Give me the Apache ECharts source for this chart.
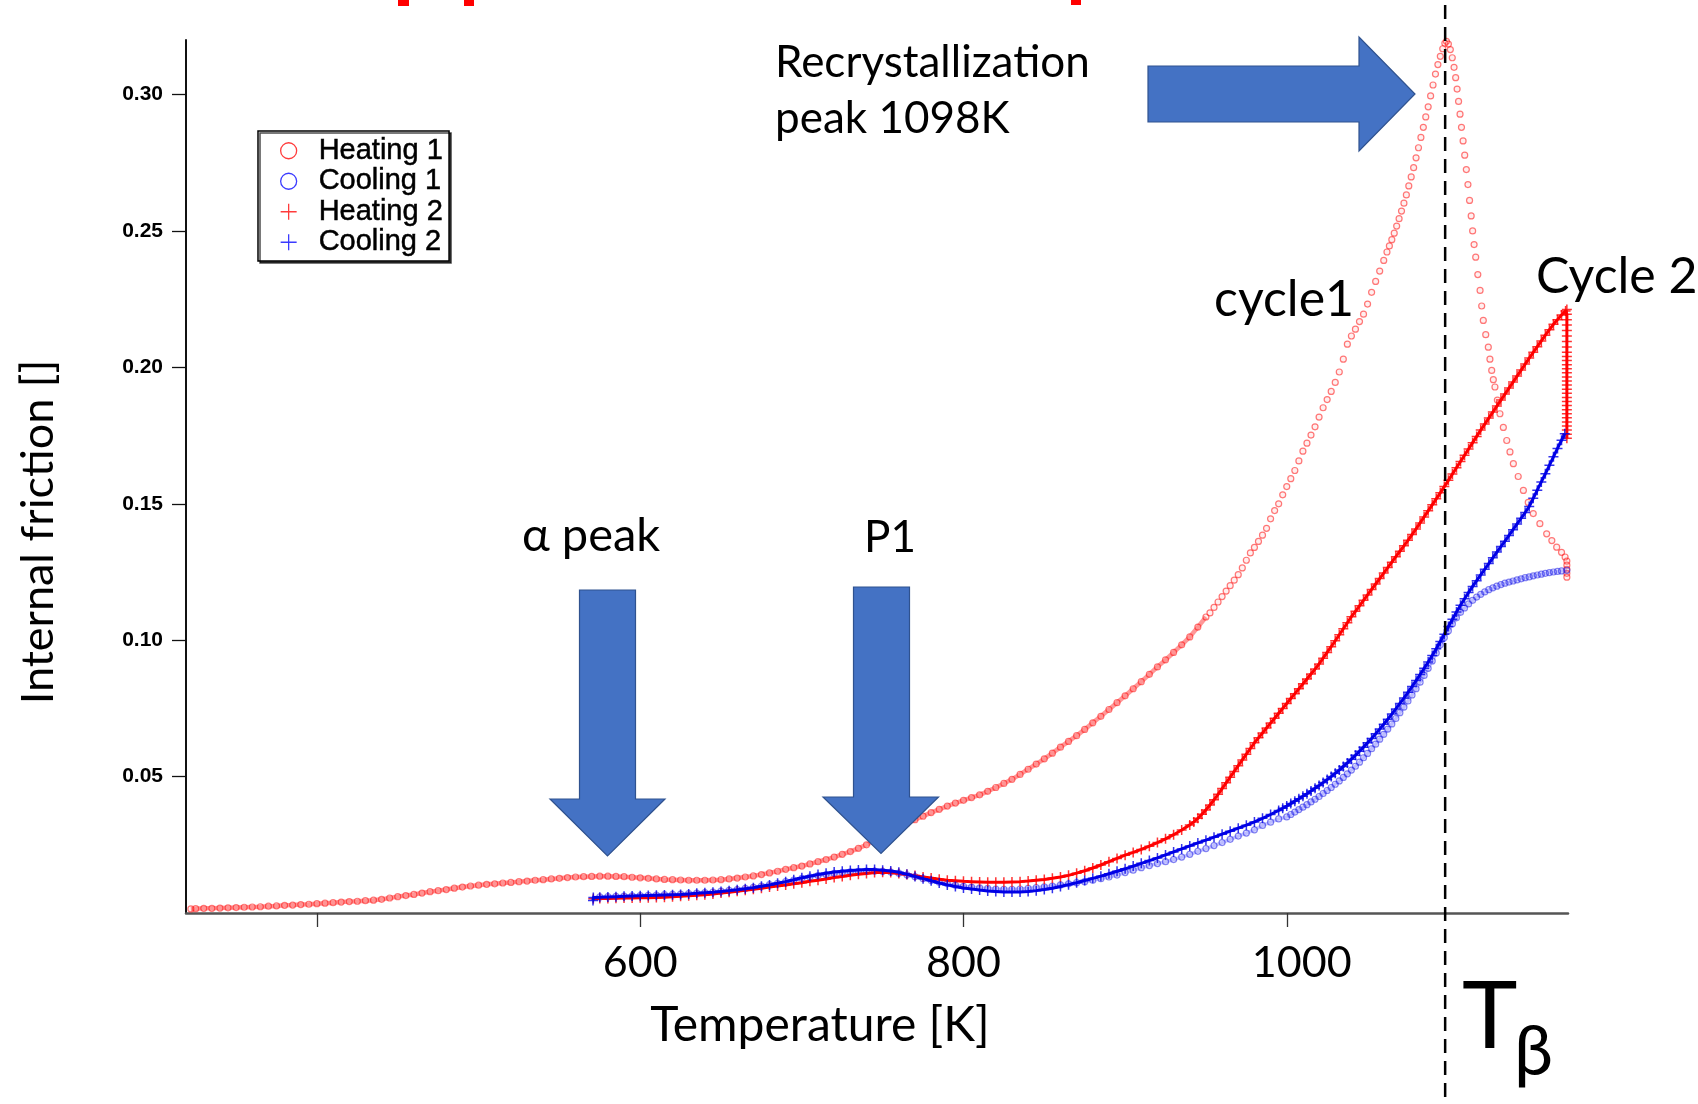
<!DOCTYPE html>
<html>
<head>
<meta charset="utf-8">
<script src="https://cdn.jsdelivr.net/npm/echarts@6/dist/echarts.min.js"></script>
<style>
  html, body { margin: 0; padding: 0; background: #fff; }
  #chart { width: 1698px; height: 1104px; }
</style>
</head>
<body>
<div id="chart"></div>
<script>
// Internal friction vs. temperature, two heating/cooling cycles.
// Each run is a list of [temperature K, internal friction].

const heating1 = [
  [322,0.0015],[325,0.0016],[330,0.0017],[335,0.0017],[340,0.0018],[345,0.0019],[350,0.0020],[355,0.0021],
  [360,0.0022],[365,0.0023],[370,0.0025],[375,0.0026],[380,0.0028],[385,0.0029],[390,0.0031],[395,0.0032],
  [400,0.0034],[405,0.0036],[410,0.0038],[415,0.0040],[420,0.0042],[425,0.0043],[430,0.0045],[435,0.0047],
  [440,0.0050],[445,0.0055],[450,0.0060],[455,0.0064],[460,0.0068],[465,0.0073],[470,0.0078],[475,0.0082],
  [480,0.0086],[485,0.0091],[490,0.0095],[495,0.0099],[500,0.0102],[505,0.0105],[510,0.0107],[515,0.0110],
  [520,0.0112],[525,0.0115],[530,0.0117],[535,0.0120],[540,0.0122],[545,0.0125],[550,0.0127],[555,0.0130],
  [560,0.0132],[565,0.0133],[570,0.0134],[575,0.0135],[580,0.0135],[585,0.0134],[590,0.0133],[595,0.0131],
  [600,0.0129],[605,0.0127],[610,0.0125],[615,0.0123],[620,0.0122],[625,0.0121],[630,0.0120],[635,0.0120],
  [640,0.0120],[645,0.0121],[650,0.0122],[655,0.0125],[660,0.0128],[665,0.0132],[670,0.0136],[675,0.0141],
  [680,0.0147],[685,0.0153],[690,0.0160],[695,0.0166],[700,0.0172],[705,0.0180],[710,0.0188],[715,0.0196],
  [720,0.0205],[725,0.0215],[730,0.0225],[735,0.0237],[740,0.0250],[745,0.0265],[750,0.0280],[755,0.0297],
  [760,0.0313],[765,0.0328],[770,0.0342],[775,0.0355],[780,0.0368],[785,0.0380],[790,0.0392],[795,0.0403],
  [800,0.0413],[805,0.0423],[810,0.0433],[815,0.0446],[820,0.0460],[825,0.0475],[830,0.0490],[835,0.0508],
  [840,0.0527],[845,0.0546],[850,0.0565],[855,0.0586],[860,0.0608],[865,0.0629],[870,0.0650],[875,0.0673],
  [880,0.0697],[885,0.0721],[890,0.0746],[895,0.0771],[900,0.0796],[905,0.0822],[910,0.0848],[915,0.0875],
  [920,0.0902],[925,0.0928],[930,0.0955],[935,0.0983],[940,0.1012],[945,0.1048],[950,0.1085],
  [952.5,0.1100],[955,0.1120],[957.5,0.1140],[960,0.1160],[962.5,0.1180],[965,0.1200],[967.5,0.1220],
  [970,0.1240],[972.5,0.1265],[975,0.1293],[977.5,0.1320],[980,0.1340],[982.5,0.1362],[985,0.1385],
  [987.5,0.1410],[990,0.1445],[992.5,0.1475],[995,0.1500],[997.5,0.1533],[1000,0.1563],[1002.5,0.1592],
  [1005,0.1622],[1007.5,0.1657],[1010,0.1693],[1012.5,0.1722],[1015,0.1752],[1017.5,0.1782],[1020,0.1818],
  [1022.5,0.1852],[1025,0.1882],[1027.5,0.1912],[1030,0.1945],[1032.5,0.1983],[1035,0.2030],[1037.5,0.2085],
  [1040,0.2115],[1042.5,0.2140],[1045,0.2168],[1047.5,0.2195],[1050,0.2232],[1052.5,0.2275],[1055,0.2315],
  [1057.5,0.2353],[1060,0.2392],[1062,0.2423],[1063.5,0.2445],[1065,0.2468],[1066.5,0.2492],[1068,0.2518],
  [1069.5,0.2545],[1071,0.2573],[1072.5,0.2602],[1074,0.2632],[1075.5,0.2665],[1077,0.2698],[1078.5,0.2732],
  [1080,0.2768],[1081.5,0.2805],[1083,0.2843],[1084.5,0.2880],[1086,0.2918],[1087.5,0.2955],[1089,0.2995],
  [1090.5,0.3035],[1092,0.3075],[1093.5,0.3110],[1095,0.3140],[1096.5,0.3168],[1097.8,0.3188],[1098.8,0.3195],
  [1100,0.3185],[1101.2,0.3165],[1102.4,0.3135],[1103.5,0.3100],[1104.5,0.3062],[1105.4,0.3020],[1106.3,0.2975],
  [1107.2,0.2928],[1108.1,0.2880],[1109.1,0.2830],[1110.1,0.2778],[1111.1,0.2725],[1112.1,0.2670],[1113.1,0.2612],
  [1114.1,0.2555],[1115.0,0.2500],[1115.9,0.2450],[1116.9,0.2404],[1118.2,0.2340],[1119.6,0.2282],[1120.6,0.2225],
  [1121.6,0.2172],[1123.1,0.2120],[1124.7,0.2074],[1125.7,0.2030],[1126.8,0.1989],[1127.8,0.1955],[1128.8,0.1928],
  [1130.3,0.1880],[1131.9,0.1830],[1134.0,0.1780],[1136.1,0.1732],[1138.1,0.1690],[1140.2,0.1647],[1143.2,0.1600],
  [1146.4,0.1549],[1149.4,0.1505],[1152.5,0.1464],[1156.6,0.1427],[1160.8,0.1390],[1164.0,0.1365],[1167.0,0.1341],
  [1170.0,0.1322],[1172.2,0.1305],[1173.3,0.1290],[1173.3,0.1275],[1173.3,0.1260],[1173.3,0.1245],[1173.3,0.1231]
];

const cooling1 = [
  [575,0.0059],[580,0.0060],[585,0.0061],[590,0.0062],[595,0.0063],[600,0.0064],[605,0.0065],[610,0.0066],
  [615,0.0067],[620,0.0068],[625,0.0069],[630,0.0071],[635,0.0073],[640,0.0075],[645,0.0077],[650,0.0080],
  [655,0.0083],[660,0.0086],[665,0.0090],[670,0.0094],[675,0.0099],[680,0.0104],[685,0.0109],[690,0.0115],
  [695,0.0121],[700,0.0127],[705,0.0132],[710,0.0137],[715,0.0141],[720,0.0145],[725,0.0148],[730,0.0151],
  [735,0.0153],[740,0.0154],[745,0.0154],[750,0.0153],[755,0.0150],[760,0.0146],[765,0.0140],[770,0.0133],
  [775,0.0126],[780,0.0119],[785,0.0113],[790,0.0107],[795,0.0102],[800,0.0098],[805,0.0095],[810,0.0092],
  [815,0.0090],[820,0.0088],[825,0.0087],[830,0.0087],[835,0.0088],[840,0.0090],[845,0.0093],[850,0.0096],
  [855,0.0099],[860,0.0103],[865,0.0107],[870,0.0111],[875,0.0115],[880,0.0120],[885,0.0126],[890,0.0132],
  [895,0.0139],[900,0.0148],[905,0.0157],[910,0.0166],[915,0.0174],[920,0.0181],[925,0.0188],[930,0.0196],
  [935,0.0205],[940,0.0215],[945,0.0226],[950,0.0236],[955,0.0247],[960,0.0258],[965,0.0270],[970,0.0282],
  [975,0.0293],[980,0.0305],[985,0.0321],[990,0.0333],[995,0.0345],
  [1000,0.0352],[1002.5,0.0361],[1005,0.0370],[1007.5,0.0379],[1010,0.0388],[1012.5,0.0397],[1015,0.0407],
  [1017.5,0.0417],[1020,0.0427],[1022.5,0.0438],[1025,0.0449],[1027.5,0.0460],[1030,0.0472],[1032.5,0.0484],
  [1035,0.0497],[1037.5,0.0510],[1040,0.0524],[1042.5,0.0538],[1045,0.0553],[1047.5,0.0569],[1050,0.0585],
  [1052.5,0.0602],[1055,0.0619],[1057.5,0.0637],[1060,0.0655],[1062.5,0.0674],[1065,0.0693],[1067.5,0.0713],
  [1070,0.0734],[1072.5,0.0755],[1075,0.0777],[1077.5,0.0799],[1080,0.0822],[1082.5,0.0846],[1085,0.0871],
  [1087.5,0.0897],[1090,0.0924],[1092.5,0.0953],[1095,0.0983],[1097.5,0.1010],[1100,0.1035],[1102.5,0.1060],
  [1105,0.1082],[1107.5,0.1102],[1110,0.1118],[1112.5,0.1133],[1115,0.1146],[1117.5,0.1158],[1120,0.1168],
  [1122.5,0.1177],[1125,0.1185],[1127.5,0.1192],[1130,0.1198],[1132.5,0.1204],[1135,0.1209],[1137.5,0.1213],
  [1140,0.1217],[1142.5,0.1221],[1145,0.1225],[1147.5,0.1229],[1150,0.1232],[1152.5,0.1236],[1155,0.1239],
  [1157.5,0.1242],[1160,0.1245],[1162.5,0.1248],[1165,0.1250],[1167.5,0.1252],[1170,0.1254],[1173.3,0.1256]
];

const heating2 = [
  [571,0.0052],[575,0.0053],[580,0.0053],[585,0.0054],[590,0.0055],[595,0.0055],[600,0.0056],[605,0.0056],
  [610,0.0057],[615,0.0058],[620,0.0060],[625,0.0061],[630,0.0063],[635,0.0065],[640,0.0067],[645,0.0070],
  [650,0.0073],[655,0.0076],[660,0.0080],[665,0.0083],[670,0.0087],[675,0.0091],[680,0.0095],[685,0.0099],
  [690,0.0103],[695,0.0107],[700,0.0111],[705,0.0116],[710,0.0120],[715,0.0125],[720,0.0130],[725,0.0134],
  [730,0.0138],[735,0.0142],[740,0.0145],[745,0.0148],[750,0.0149],[755,0.0148],[760,0.0145],[765,0.0141],
  [770,0.0137],[775,0.0132],[780,0.0128],[785,0.0124],[790,0.0120],[795,0.0118],[800,0.0116],[805,0.0115],
  [810,0.0114],[815,0.0113],[820,0.0113],[825,0.0113],[830,0.0114],[835,0.0115],[840,0.0117],[845,0.0120],
  [850,0.0123],[855,0.0127],[860,0.0132],[865,0.0138],[870,0.0146],[875,0.0155],[880,0.0165],[885,0.0176],
  [890,0.0188],[895,0.0200],[900,0.0212],[905,0.0222],[910,0.0233],[915,0.0245],[920,0.0258],[925,0.0272],
  [930,0.0287],[935,0.0304],[940,0.0323],[942.5,0.0334],[945,0.0347],[947.5,0.0362],[950,0.0378],
  [952.5,0.0396],[955,0.0415],[957.5,0.0435],[960,0.0456],[962.5,0.0477],[965,0.0498],[967.5,0.0519],
  [970,0.0540],[972.5,0.0561],[975,0.0582],[977.5,0.0603],[980,0.0624],[982.5,0.0642],[985,0.0660],
  [987.5,0.0678],[990,0.0696],[992.5,0.0714],[995,0.0732],[997.5,0.0750],[1000,0.0768],[1002.5,0.0786],
  [1005,0.0804],[1007.5,0.0822],[1010,0.0840],[1012.5,0.0858],[1015,0.0876],[1017.5,0.0894],[1020,0.0913],
  [1022.5,0.0934],[1025,0.0955],[1027.5,0.0976],[1030,0.0998],[1032.5,0.1020],[1035,0.1042],[1037.5,0.1064],
  [1040,0.1086],[1042.5,0.1106],[1045,0.1126],[1047.5,0.1146],[1050,0.1166],[1052.5,0.1186],[1055,0.1206],
  [1057.5,0.1226],[1060,0.1246],[1062.5,0.1266],[1065,0.1286],[1067.5,0.1306],[1070,0.1326],[1072.5,0.1346],
  [1075,0.1366],[1077.5,0.1387],[1080,0.1408],[1082.5,0.1430],[1085,0.1452],[1087.5,0.1474],[1090,0.1496],
  [1092.5,0.1518],[1095,0.1540],[1097.5,0.1563],[1100,0.1586],[1102.5,0.1609],[1105,0.1632],[1107.5,0.1655],
  [1110,0.1678],[1112.5,0.1701],[1115,0.1724],[1117.5,0.1747],[1120,0.1770],[1122.5,0.1792],[1125,0.1814],
  [1127.5,0.1836],[1130,0.1858],[1132.5,0.1880],[1135,0.1902],[1137.5,0.1924],[1140,0.1946],[1142.5,0.1968],
  [1145,0.1990],[1147.5,0.2012],[1150,0.2034],[1152.5,0.2055],[1155,0.2076],[1157.5,0.2097],[1160,0.2118],
  [1162.5,0.2138],[1165,0.2158],[1167.5,0.2175],[1170,0.2192],[1172.5,0.2207],[1173.3,0.2212],
  [1173.3,0.2195],[1173.3,0.2175],[1173.3,0.2155],[1173.3,0.2135],[1173.3,0.2115],[1173.3,0.2095],
  [1173.3,0.2075],[1173.3,0.2055],[1173.3,0.2040],[1173.3,0.2025],[1173.3,0.2010],[1173.3,0.1995],
  [1173.3,0.1980],[1173.3,0.1965],[1173.3,0.1950],[1173.3,0.1935],[1173.3,0.1920],[1173.3,0.1905],
  [1173.3,0.1890],[1173.3,0.1875],[1173.3,0.1860],[1173.3,0.1845],[1173.3,0.1830],[1173.3,0.1815],
  [1173.3,0.1800],[1173.3,0.1785],[1173.3,0.1770],[1173.3,0.1755],[1173.3,0.1740]
];

const cooling2 = [
  [570.8,0.0046],[571,0.0057],[575,0.0058],[580,0.0059],[585,0.0060],[590,0.0061],[595,0.0062],[600,0.0063],
  [605,0.0064],[610,0.0065],[615,0.0066],[620,0.0067],[625,0.0068],[630,0.0070],[635,0.0072],[640,0.0074],
  [645,0.0076],[650,0.0079],[655,0.0082],[660,0.0085],[665,0.0089],[670,0.0093],[675,0.0098],[680,0.0103],
  [685,0.0109],[690,0.0115],[695,0.0122],[700,0.0129],[705,0.0135],[710,0.0141],[715,0.0146],[720,0.0150],
  [725,0.0153],[730,0.0156],[735,0.0158],[740,0.0159],[745,0.0159],[750,0.0157],[755,0.0154],[760,0.0149],
  [765,0.0142],[770,0.0134],[775,0.0126],[780,0.0118],[785,0.0110],[790,0.0103],[795,0.0097],[800,0.0092],
  [805,0.0088],[810,0.0084],[815,0.0081],[820,0.0079],[825,0.0077],[830,0.0077],[835,0.0077],[840,0.0079],
  [845,0.0082],[850,0.0086],[855,0.0091],[860,0.0097],[865,0.0104],[870,0.0111],[875,0.0119],[880,0.0127],
  [885,0.0135],[890,0.0144],[895,0.0153],[900,0.0162],[905,0.0172],[910,0.0182],[915,0.0192],[920,0.0202],
  [925,0.0213],[930,0.0224],[935,0.0235],[940,0.0246],[945,0.0257],[950,0.0267],[955,0.0278],[960,0.0289],
  [965,0.0300],[970,0.0311],[975,0.0322],[980,0.0334],[985,0.0347],[990,0.0361],[995,0.0376],[997.5,0.0384],
  [1000,0.0392],[1002.5,0.0401],[1005,0.0410],[1007.5,0.0419],[1010,0.0428],[1012.5,0.0437],[1015,0.0447],
  [1017.5,0.0457],[1020,0.0467],[1022.5,0.0478],[1025,0.0489],[1027.5,0.0500],[1030,0.0512],[1032.5,0.0524],
  [1035,0.0537],[1037.5,0.0550],[1040,0.0564],[1042.5,0.0578],[1045,0.0593],[1047.5,0.0608],[1050,0.0624],
  [1052.5,0.0640],[1055,0.0657],[1057.5,0.0674],[1060,0.0692],[1062.5,0.0710],[1065,0.0729],[1067.5,0.0748],
  [1070,0.0768],[1072.5,0.0788],[1075,0.0809],[1077.5,0.0830],[1080,0.0852],[1082.5,0.0874],[1085,0.0897],
  [1087.5,0.0920],[1090,0.0944],[1092.5,0.0969],[1095,0.0995],[1097.5,0.1022],[1100,0.1050],[1102.5,0.1077],
  [1105,0.1103],[1107.5,0.1128],[1110,0.1152],[1112.5,0.1175],[1115,0.1197],[1117.5,0.1218],[1120,0.1239],
  [1122.5,0.1260],[1125,0.1281],[1127.5,0.1302],[1130,0.1323],[1132.5,0.1343],[1135,0.1363],[1137.5,0.1384],
  [1140,0.1405],[1142.5,0.1426],[1145,0.1447],[1147.5,0.1468],[1150,0.1490],[1152.5,0.1520],[1155,0.1550],
  [1157.5,0.1580],[1160,0.1610],[1162.5,0.1641],[1165,0.1672],[1167.5,0.1703],[1170,0.1733],[1172,0.1757]
];

const seriesNames = ['Heating 1', 'Cooling 1', 'Heating 2', 'Cooling 2'];
const xTickValues = [400, 600, 800, 1000];
const xLabelValues = [600, 800, 1000];
const yTickValues = [0.05, 0.10, 0.15, 0.20, 0.25, 0.30];
const betaTransus = 1098;           // K, dashed marker
const recrystPeakLabel = 'peak 1098K';

const RED = '#ff0000';
const BLUE = '#0000e6';
const PLUS = 'path://M0,5L10,5M5,0L5,10';
const CALIBRI_LIKE = 'Lato, "Open Sans", sans-serif';
const HELV = '"Liberation Sans", Arial, sans-serif';

// dense part of the first heating run gets a soft underlying trace
const heating1Dense = heating1.filter(p => p[0] <= 950);

const chart = echarts.init(document.getElementById('chart'), null, { renderer: 'canvas' });

const option = {
  animation: false,
  backgroundColor: '#ffffff',
  textStyle: { fontFamily: HELV },
  grid: { left: 186, right: 130, top: 40, bottom: 191, containLabel: false, outerBoundsMode: 'none' },
  xAxis: {
    type: 'value', min: 319, max: 1174,
    axisLine: { show: true, onZero: false, lineStyle: { color: '#555', width: 2.5 } },
    axisTick: { show: true, inside: false, length: 14, customValues: xTickValues,
                lineStyle: { color: '#333', width: 1.3 } },
    axisLabel: { show: true, customValues: xLabelValues, margin: 29, color: '#000',
                 fontFamily: CALIBRI_LIKE, fontSize: 43,
                 // the four-digit label sits a little right of its tick
                 formatter: v => (v >= 1000 ? '{wide|' + v + '}' : String(v)),
                 rich: { wide: { fontFamily: CALIBRI_LIKE, fontSize: 43, color: '#000', padding: [0, 0, 0, 30] } } },
    splitLine: { show: false }
  },
  yAxis: {
    type: 'value', min: 0, max: 0.32,
    axisLine: { show: true, onZero: false, lineStyle: { color: '#111', width: 2 } },
    axisTick: { show: true, inside: false, length: 14, customValues: yTickValues,
                lineStyle: { color: '#111', width: 1.3 } },
    axisLabel: { show: true, customValues: yTickValues, margin: 23, color: '#000',
                 fontFamily: HELV, fontWeight: 'bold', fontSize: 21,
                 formatter: v => v.toFixed(2) },
    splitLine: { show: false }
  },
  legend: {
    orient: 'vertical', left: 258, top: 131,
    padding: [5, 6, 4, 22],
    itemWidth: 16, itemHeight: 16, itemGap: 1,
    backgroundColor: '#fff', borderColor: '#000', borderWidth: 1.5, borderRadius: 0,
    shadowColor: 'rgba(0,0,0,0.7)', shadowOffsetX: 2, shadowOffsetY: 2, shadowBlur: 0,
    selectedMode: false,
    textStyle: { fontFamily: HELV, fontSize: 29, lineHeight: 28, color: '#000',
                 textBorderColor: '#000', textBorderWidth: 0.5, padding: [0, 0, 0, 17] },
    data: [
      { name: seriesNames[0], icon: 'circle', itemStyle: { color: 'rgba(255,255,255,0)', borderColor: '#ff3b3b', borderWidth: 1.3 } },
      { name: seriesNames[1], icon: 'circle', itemStyle: { color: 'rgba(255,255,255,0)', borderColor: '#3b3bff', borderWidth: 1.3 } },
      { name: seriesNames[2], icon: PLUS, itemStyle: { color: 'rgba(255,255,255,0)', borderColor: '#ff3b3b', borderWidth: 1.3 } },
      { name: seriesNames[3], icon: PLUS, itemStyle: { color: 'rgba(255,255,255,0)', borderColor: '#3b3bff', borderWidth: 1.3 } }
    ]
  },
  series: [
    { name: seriesNames[0], type: 'line', data: heating1Dense, showSymbol: false, silent: true,
      lineStyle: { color: 'rgba(255,50,50,0.5)', width: 4.5 }, z: 1 },
    { name: seriesNames[0], type: 'scatter', data: heating1, symbol: 'circle', symbolSize: 6, silent: true,
      itemStyle: { color: 'rgba(255,120,120,0.15)', borderColor: 'rgba(255,0,0,0.65)', borderWidth: 1.2 }, z: 2 },
    { name: seriesNames[1], type: 'line', data: cooling1, showSymbol: false, silent: true,
      lineStyle: { color: 'rgba(60,60,255,0.3)', width: 3.5 }, z: 3 },
    { name: seriesNames[1], type: 'scatter', data: cooling1, symbol: 'circle', symbolSize: 6, silent: true,
      itemStyle: { color: 'rgba(120,120,255,0.12)', borderColor: 'rgba(20,20,230,0.65)', borderWidth: 1.2 }, z: 4 },
    { name: seriesNames[2], type: 'line', data: heating2, showSymbol: false, silent: true,
      lineStyle: { color: RED, width: 3 }, z: 5 },
    { name: seriesNames[2], type: 'scatter', data: heating2, symbol: PLUS, symbolSize: 10, silent: true,
      itemStyle: { color: 'rgba(0,0,0,0)', borderColor: RED, borderWidth: 1.5 }, z: 6 },
    { name: seriesNames[3], type: 'line', data: cooling2, showSymbol: false, silent: true,
      lineStyle: { color: BLUE, width: 3 }, z: 7 },
    { name: seriesNames[3], type: 'scatter', data: cooling2, symbol: PLUS, symbolSize: 10, silent: true,
      itemStyle: { color: 'rgba(0,0,0,0)', borderColor: BLUE, borderWidth: 1.5 }, z: 8 }
  ]
};

chart.setOption(option);

// Annotations: block arrows, labels and the beta-transus marker.
const ARROW_FILL = '#4472C4';
const ARROW_EDGE = '#2F528F';

function downArrow(sx1, sx2, top, headY, hx1, hx2, tipX, tipY) {
  return { type: 'polygon', z: 100,
    shape: { points: [[sx1, top], [sx2, top], [sx2, headY], [hx2, headY], [tipX, tipY], [hx1, headY], [sx1, headY]] },
    style: { fill: ARROW_FILL, stroke: ARROW_EDGE, lineWidth: 1.2 } };
}

function label(text, x, y, size, align) {
  return { type: 'text', z: 110, x: x, y: y,
    style: { text: text, fill: '#000', font: size + 'px ' + CALIBRI_LIKE,
             textAlign: align || 'left', textVerticalAlign: 'middle' } };
}

const xBeta = chart.convertToPixel({ xAxisIndex: 0 }, betaTransus);

chart.setOption({
  graphic: [
    // heading text running off the top edge
    { type: 'rect', z: 100, shape: { x: 398, y: 0, width: 11, height: 6 }, style: { fill: RED } },
    { type: 'rect', z: 100, shape: { x: 464, y: 0, width: 10, height: 6 }, style: { fill: RED } },
    { type: 'rect', z: 100, shape: { x: 1071, y: 0, width: 10, height: 5 }, style: { fill: RED } },

    { type: 'line', z: 105, shape: { x1: xBeta, y1: 5, x2: xBeta, y2: 1100 },
      style: { stroke: '#000', lineWidth: 2.5, lineDash: [14, 8] } },

    downArrow(579.5, 635.5, 590, 799, 550, 665, 607.5, 856),
    downArrow(853.5, 909.5, 587, 797, 823, 938.5, 881, 853.5),
    { type: 'polygon', z: 100,
      shape: { points: [[1148, 66], [1359, 66], [1359, 37], [1415, 94], [1359, 151], [1359, 122], [1148, 122]] },
      style: { fill: ARROW_FILL, stroke: ARROW_EDGE, lineWidth: 1.2 } },

    label('Recrystallization', 775, 63, 44),
    label(recrystPeakLabel, 775, 119, 44),
    label('cycle1', 1214, 300, 50),
    label('Cycle 2', 1536, 277, 50),
    label('\u03b1 peak', 522, 536, 47),
    label('P1', 864, 538, 44),
    label('Temperature [K]', 820, 1026, 48, 'center'),
    { type: 'text', z: 110, x: 38, y: 532, rotation: Math.PI / 2,
      style: { text: 'Internal friction []', fill: '#000', font: '45px ' + CALIBRI_LIKE,
               textAlign: 'center', textVerticalAlign: 'middle' } },
    label('T', 1462, 1018, 94),
    label('\u03b2', 1514, 1052, 70)
  ]
});
</script>
</body>
</html>
